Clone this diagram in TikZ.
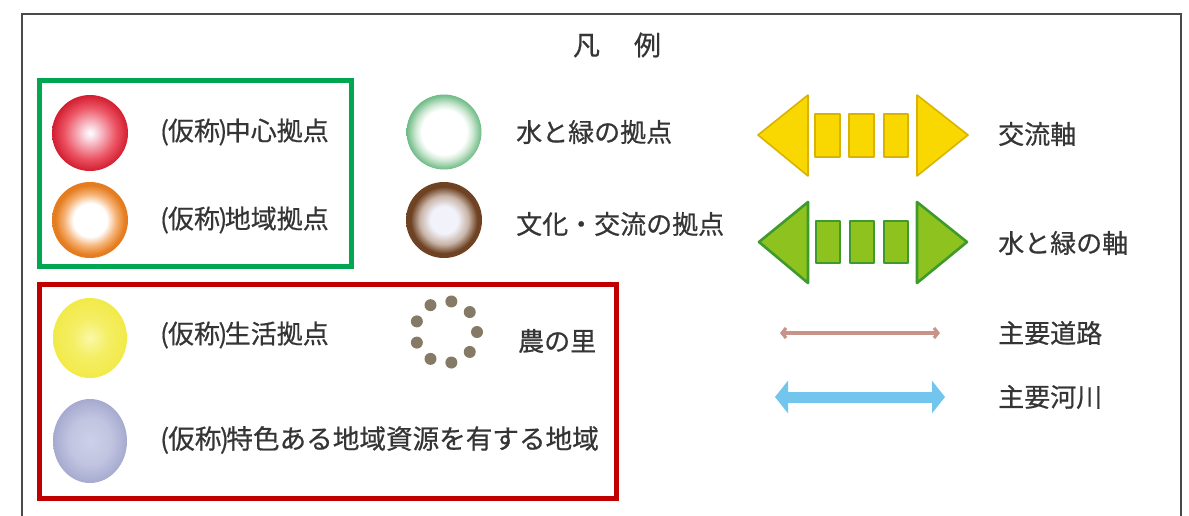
\documentclass[tikz,border=0pt]{standalone}
\usepackage{fontspec}
\newfontfamily\jp[FakeBold=0.6]{Noto Sans CJK JP}
\usetikzlibrary{arrows.meta,calc}
\definecolor{txt}{HTML}{353535}
\definecolor{framec}{HTML}{4A4A4A}
\definecolor{gbox}{HTML}{00A650}
\definecolor{rbox}{HTML}{C00000}
\definecolor{rcen}{HTML}{FBE4EC}
\definecolor{rmid}{HTML}{EC5464}
\definecolor{redge}{HTML}{D21E30}
\definecolor{omid}{HTML}{F6B478}
\definecolor{oedge}{HTML}{E57C20}
\definecolor{gmid}{HTML}{CFE9D4}
\definecolor{gedge}{HTML}{6DBA84}
\definecolor{bcen}{HTML}{F2F2FA}
\definecolor{bmid}{HTML}{C8B4A8}
\definecolor{bedge}{HTML}{6E4222}
\definecolor{ycen}{HTML}{FAF8A8}
\definecolor{yedge}{HTML}{F2EA48}
\definecolor{vcen}{HTML}{CDD0E8}
\definecolor{vedge}{HTML}{A6AACF}
\definecolor{dotc}{HTML}{857A66}
\definecolor{yfill}{HTML}{F8D800}
\definecolor{ystroke}{HTML}{D8B400}
\definecolor{gfill}{HTML}{8EC31F}
\definecolor{gstroke}{HTML}{3E9A2C}
\definecolor{roadc}{HTML}{C8948A}
\definecolor{riverc}{HTML}{72C6EE}
\pgfdeclareradialshading{redball}{\pgfpointorigin}{color(0bp)=(white); color(3bp)=(rcen); color(17bp)=(rmid); color(25bp)=(redge); color(50bp)=(redge)}
\pgfdeclareradialshading{orangering}{\pgfpointorigin}{color(0bp)=(white); color(11bp)=(white); color(17bp)=(omid); color(23bp)=(oedge); color(50bp)=(oedge)}
\pgfdeclareradialshading{greenring}{\pgfpointorigin}{color(0bp)=(white); color(15bp)=(white); color(19bp)=(gmid); color(25bp)=(gedge); color(50bp)=(gedge)}
\pgfdeclareradialshading{brownring}{\pgfpointorigin}{color(0bp)=(bcen); color(9bp)=(bcen); color(16bp)=(bmid); color(22bp)=(bedge); color(50bp)=(bedge)}
\pgfdeclareradialshading{yellowball}{\pgfpointorigin}{color(0bp)=(ycen); color(12bp)=(yedge!70!ycen); color(25bp)=(yedge); color(50bp)=(yedge)}
\pgfdeclareradialshading{violetball}{\pgfpointorigin}{color(0bp)=(vcen); color(14bp)=(vcen!70!vedge); color(25bp)=(vedge); color(50bp)=(vedge)}
\newcommand{\kasho}{(\kern-1pt仮称\kern-1.5pt)\kern-2.5pt}
\tikzset{
  lbl/.style={anchor=west, inner sep=0pt, text=txt, font=\jp\fontsize{26}{30}\selectfont},
  wide/.style={font=\jp\fontsize{26.6}{30}\selectfont},
  framebox/.style={draw=framec, line width=2.5pt},
  groupbox/.style={line width=5pt},
  ybar/.style={fill=yfill, draw=ystroke, line width=1.6pt, line join=round},
  gbar/.style={fill=gfill, draw=gstroke, line width=2.6pt, line join=round},
  dotmark/.style={fill=dotc},
}
\begin{document}
\begin{tikzpicture}[x=1pt,y=-1pt]
\useasboundingbox (0,0) rectangle (1189,515);
% outer frame
\coordinate (fbl) at (22,516);
\coordinate (ftl) at (22,14);
\coordinate (ftr) at (1181,14);
\coordinate (fbr) at (1181,516);
\draw[framebox] (fbl) -- (ftl) -- (ftr) -- (fbr);
% title
\node[lbl, anchor=center, font=\jp\fontsize{27}{30}\selectfont] (title) at (617,45) {凡\hspace{34pt}例};
% group boxes
\draw[groupbox, draw=gbox] (39,80) rectangle (351,266);
\draw[groupbox, draw=rbox] (39,284) rectangle (616,498);
% circles
\shade[shading=redball] (90,133) circle (38);
\shade[shading=orangering] (90,220) circle (38);
\shade[shading=greenring] (444,132) circle (37.5);
\shade[shading=brownring] (444,220) circle (38);
\shade[shading=yellowball] (90,338) ellipse (37 and 40);
\shade[shading=violetball] (90,441) ellipse (37 and 42);
% dotted ring
\coordinate (ringc) at (446,332);
\foreach \a in {-80,-40,...,240} {
  \fill[dotmark] ($(ringc)+(\a:31)$) circle (6);
}
% labels
\node[lbl] (l1) at (160,132) {\kasho 中心拠点};
\node[lbl] (l2) at (160,220) {\kasho 地域拠点};
\node[lbl] (l3) at (516,132) {水と緑の拠点};
\node[lbl] (l4) at (516,224) {文化・交流の拠点};
\node[lbl] (l5) at (160,335) {\kasho 生活拠点};
\node[lbl] (l6) at (518,341) {農の里};
\node[lbl, wide] (l7) at (160,440) {\kasho 特色ある地域資源を有する地域};
\node[lbl] (l8) at (998,134) {交流軸};
\node[lbl] (l9) at (998,243) {水と緑の軸};
\node[lbl] (l10) at (998,333) {主要道路};
\node[lbl] (l11) at (998,397) {主要河川};
% yellow axis
\draw[ybar] (758,135) -- (808,95) -- (808,176) -- cycle;
\draw[ybar] (815,114) rectangle (840,157);
\draw[ybar] (849,114) rectangle (874,157);
\draw[ybar] (884,114) rectangle (908,157);
\draw[ybar] (917,95) -- (968,135) -- (917,176) -- cycle;
% green axis
\draw[gbar] (759,242) -- (808,202) -- (808,283) -- cycle;
\draw[gbar] (816,221) rectangle (840,263);
\draw[gbar] (850,221) rectangle (874,263);
\draw[gbar] (884,221) rectangle (908,263);
\draw[gbar] (917,202) -- (967,242) -- (917,283) -- cycle;
% road and river
\coordinate (ra) at (780,333);
\coordinate (rb) at (940,333);
\draw[roadc, line width=3.2pt, {Straight Barb[length=4pt,width=10pt]}-{Straight Barb[length=4pt,width=10pt]}] (ra) -- (rb);
\coordinate (va) at (775,397);
\coordinate (vb) at (945,397);
\draw[riverc, line width=11pt, {Triangle[length=13pt,width=32pt]}-{Triangle[length=13pt,width=32pt]}] (va) -- (vb);
\end{tikzpicture}
\end{document}
